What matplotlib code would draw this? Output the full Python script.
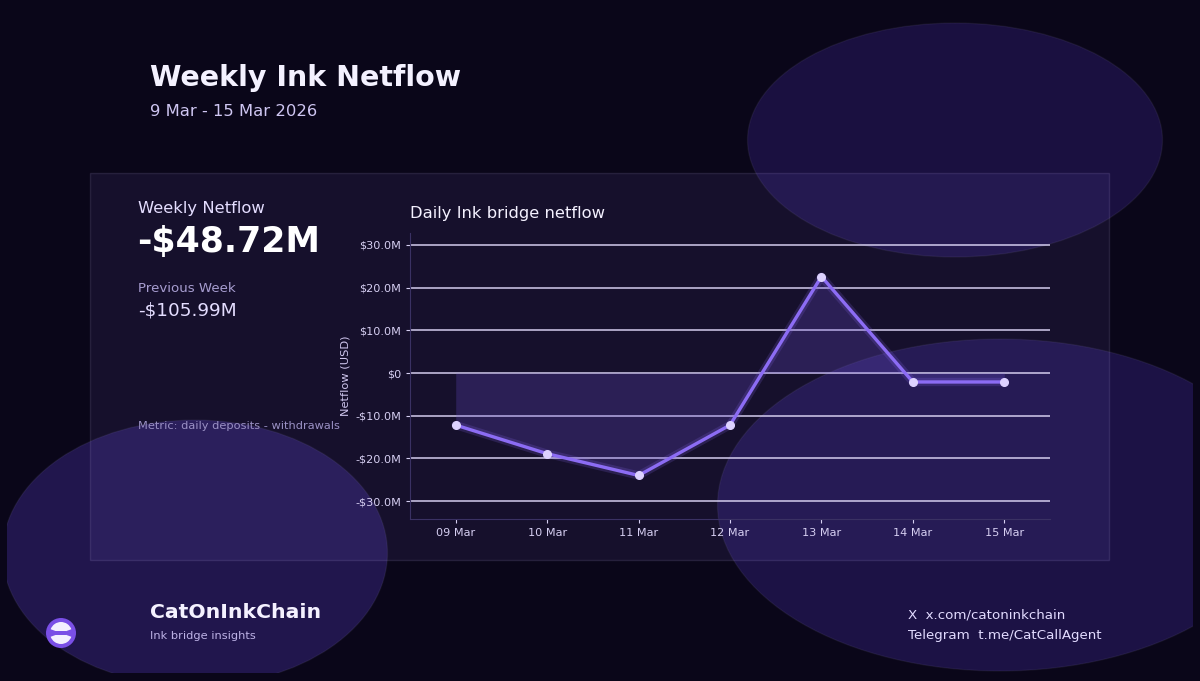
import matplotlib
matplotlib.use('Agg')
import matplotlib.pyplot as plt
from matplotlib.patches import Ellipse, Rectangle, Circle, Wedge
from matplotlib.ticker import FuncFormatter, MultipleLocator

plt.rcParams['font.family'] = ['DejaVu Sans']

# data
days = ['09 Mar', '10 Mar', '11 Mar', '12 Mar', '13 Mar', '14 Mar', '15 Mar']
netflow = [-12.2e6, -18.9e6, -24.0e6, -12.2e6, 22.6e6, -2.1e6, -2.1e6]
weekly_total = '-$48.72M'
previous_week = '-$105.99M'

bg = '#0a0619'
line_c = '#8c6cf4'
dot_c = '#ddd2ff'
txt_main = '#f4f1ff'
txt_soft = '#cfc6f2'
txt_dim = '#a79dd0'

W, H = 1200, 681
fig = plt.figure(figsize=(W / 100, H / 100), dpi=100, facecolor=bg)

# background layer in pixel coords
bgax = fig.add_axes([0, 0, 1, 1], zorder=0)
bgax.set_xlim(0, W)
bgax.set_ylim(H, 0)
bgax.axis('off')

clip = Rectangle((7, 0), 1186, 673, transform=bgax.transData, facecolor='none', edgecolor='none')
bgax.add_patch(clip)
for (cx, cy, w, h, col) in [(955, 140, 415, 234, '#1a1040'),
                            (1000, 505, 565, 332, '#1c1245'),
                            (195, 553, 385, 266, '#21164d')]:
    e = Ellipse((cx, cy), w, h, facecolor=col, edgecolor=(1, 1, 1, 0.05), lw=1)
    bgax.add_patch(e)
    e.set_clip_path(clip)

# card panel
bgax.add_patch(Rectangle((90, 173), 1019, 387, facecolor=(0.6, 0.5, 1.0, 0.085),
                         edgecolor=(0.8, 0.75, 1.0, 0.12), lw=1))

# header
bgax.text(150, 78, 'Weekly Ink Netflow', fontsize=20.5, fontweight='bold', color=txt_main, va='center')
bgax.text(150, 111, '9 Mar - 15 Mar 2026', fontsize=11.8, color=txt_soft, va='center')

# KPI block
bgax.text(138, 208, 'Weekly Netflow', fontsize=11.8, color='#e4ddff', va='center')
bgax.text(137, 242, weekly_total, fontsize=25, fontweight='bold', color='#ffffff', va='center')
bgax.text(138, 289, 'Previous Week', fontsize=9.6, color=txt_dim, va='center')
bgax.text(138, 311, previous_week, fontsize=13.3, color='#e4ddff', va='center')
bgax.text(138, 426, 'Metric: daily deposits - withdrawals', fontsize=8.2, color='#9a90c4', va='center')

# footer
bgax.add_patch(Circle((61, 633), 15, facecolor='#7a4fe6', edgecolor='none'))
bgax.add_patch(Wedge((61, 633), 11, 200, 340, facecolor='#f3efff', edgecolor='none'))
bgax.add_patch(Wedge((61, 633), 11, 20, 160, facecolor='#f3efff', edgecolor='none'))
bgax.add_patch(Rectangle((52, 631), 14, 4, facecolor='#7a4fe6', edgecolor='none'))
bgax.text(150, 613, 'CatOnInkChain', fontsize=14.7, fontweight='bold', color=txt_main, va='center')
bgax.text(150, 636, 'Ink bridge insights', fontsize=8.2, color='#bdb2e6', va='center')
bgax.text(908, 615, 'X  x.com/catoninkchain', fontsize=9.6, color='#e2dbff', va='center')
bgax.text(908, 635, 'Telegram  t.me/CatCallAgent', fontsize=9.6, color='#e2dbff', va='center')

# chart
ax = fig.add_axes([410 / W, 1 - 519 / H, 640 / W, 286 / H], zorder=1)
ax.patch.set_alpha(0)
x = list(range(len(days)))
ax.fill_between(x, netflow, 0, color='#6a4fd0', alpha=0.25, lw=0)
ax.plot(x, netflow, color=line_c, lw=6, alpha=0.18, solid_capstyle='round')
ax.plot(x, netflow, color=line_c, lw=2.4, marker='o', markersize=5.5,
        markerfacecolor=dot_c, markeredgecolor=dot_c)

ax.set_xlim(-0.5, 6.5)
ax.set_ylim(-34.2e6, 32.8e6)
ax.yaxis.set_major_locator(MultipleLocator(10e6))


def money(v, pos):
    if abs(v) < 1:
        return '$0'
    return ('-' if v < 0 else '') + '${:.1f}M'.format(abs(v) / 1e6)


ax.yaxis.set_major_formatter(FuncFormatter(money))
ax.set_xticks(x)
ax.set_xticklabels(days)
ax.grid(axis='y', color='#d4cdee', lw=1.1)
ax.set_axisbelow(True)
for s in ['top', 'right']:
    ax.spines[s].set_visible(False)
for s in ['left', 'bottom']:
    ax.spines[s].set_color('#3a3163')
ax.tick_params(colors='#d6cff2', labelsize=8.1, length=3)
ax.set_ylabel('Netflow (USD)', color='#cfc6ee', fontsize=8.2, labelpad=3)
ax.set_title('Daily Ink bridge netflow', loc='left', color=txt_main, fontsize=11.8, pad=11)

fig.savefig('out.png', dpi=100, facecolor=bg)
